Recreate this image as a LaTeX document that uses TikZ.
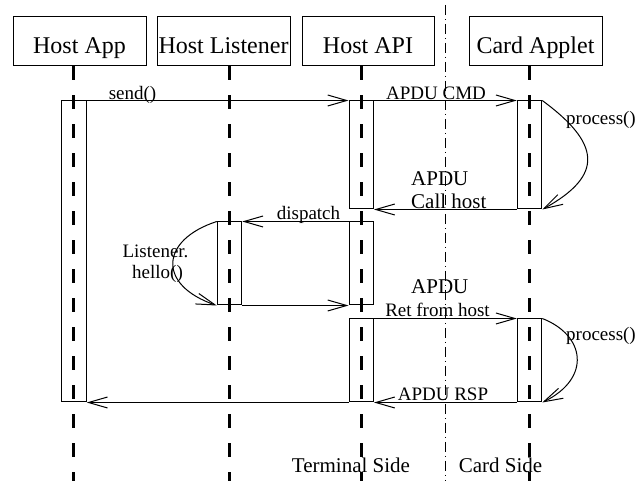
\documentclass[tikz,border=0pt]{standalone}
\usepackage{fontspec}
\setmainfont{Liberation Serif}
\usetikzlibrary{arrows.meta}
\newcommand\szA{\fontsize{24}{28}\selectfont}
\newcommand\szB{\fontsize{21}{25}\selectfont}
\newcommand\szC{\fontsize{19}{22}\selectfont}
\begin{document}
\begin{tikzpicture}[x=1pt,y=-1pt,
 actor/.style={draw, line width=1pt, inner sep=0pt, minimum width=133pt, text height=37pt, text depth=12pt, anchor=base, font=\szA},
 act/.style={draw, line width=1pt, inner sep=0pt, minimum width=24.5pt},
 lifeline/.style={line width=2.5pt, dash pattern=on 14pt off 15pt},
 divider/.style={line width=0.8pt, dash pattern=on 10pt off 4pt on 1pt off 4pt},
 msg/.style={line width=1pt, -{Straight Barb[length=19pt,width=11pt,line width=1pt]}},
 lab/.style={anchor=base, inner sep=0pt, font=\szC},
 labm/.style={anchor=base, inner sep=0pt, font=\szB},
]
\useasboundingbox (0,0) rectangle (641,481);

% actors
\node[actor] (app)  at (79.5,54)  {Host App};
\node[actor] (lis)  at (223.5,54) {Host Listener};
\node[actor, minimum width=132pt] (api)  at (368,54)   {Host API};
\node[actor] (card) at (535.5,54) {Card Applet};

% lifeline ends
\coordinate (appE)  at (73.5,481);
\coordinate (lisE)  at (229.5,481);
\coordinate (apiE)  at (361.5,481);
\coordinate (cardE) at (529.5,481);
\draw[lifeline] (app.south -| appE) -- (appE);
\draw[lifeline] (lis.south -| lisE) -- (lisE);
\draw[lifeline] (api.south -| apiE) -- (apiE);
\draw[lifeline] (card.south -| cardE) -- (cardE);

% divider
\coordinate (divT) at (445.5,5);
\coordinate (divB) at (445.5,481);
\draw[divider] (divT) -- (divB);

% activations
\node[act, minimum height=301pt] (aApp)   at (74,251.5) {};
\node[act, minimum height=108pt] (aApi1)  at (361.25,155) {};
\node[act, minimum height=108pt] (aCard1) at (529.5,155) {};
\node[act, minimum height=83pt]  (aApi2)  at (361.25,263.5) {};
\node[act, minimum height=83pt]  (aLis)   at (229.5,263.5) {};
\node[act, minimum height=83pt]  (aApi3)  at (361.25,360.5) {};
\node[act, minimum height=83pt]  (aCard2) at (529.5,360.5) {};

% messages
\draw[msg] (aApp.north east) -- (aApi1.north west);
\draw[msg] (aApi1.north east) -- (aCard1.north west);
\draw[msg] (aCard1.north east) .. controls (600,143) and (605,175) .. (aCard1.south east);
\draw[msg] (aCard1.south west) -- (aApi1.south east);
\draw[msg] (aApi2.north west) -- (aLis.north east);
\draw[msg] (aLis.north west) .. controls (160,240) and (157,285) .. (aLis.south west);
\draw[msg] (aLis.south east) -- (aApi2.south west);
\draw[msg] (aApi3.north east) -- (aCard2.north west);
\draw[msg] (aCard2.north east) .. controls (585,335) and (592,378) .. (aCard2.south east);
\draw[msg] (aCard2.south west) -- (aApi3.south east);
\draw[msg] (aApi3.south west) -- (aApp.south east);

% labels
\node[lab] (lSend) at (132.5,100) {send()};
\node[lab] (lCmd)  at (436,100) {APDU CMD};
\node[lab] (lProc1) at (601,125) {process()};
\node[labm, anchor=base west] (lCall1) at (411,186) {APDU};
\node[labm, anchor=base west] (lCall2) at (411,209) {Call host};
\node[lab] (lDisp) at (308.5,220) {dispatch};
\node[lab] (lLis1) at (155.5,258) {Listener.};
\node[lab] (lLis2) at (157.5,279) {hello()};
\node[labm, anchor=base west] (lRet1) at (411,294) {APDU};
\node[lab] (lRet2) at (437.5,317) {Ret from host};
\node[lab] (lProc2) at (601,341) {process()};
\node[lab] (lRsp) at (443,401) {APDU RSP};
\node[labm] (lTerm) at (351,473) {Terminal Side};
\node[labm] (lCardS) at (500.5,473) {Card Side};
\end{tikzpicture}
\end{document}
